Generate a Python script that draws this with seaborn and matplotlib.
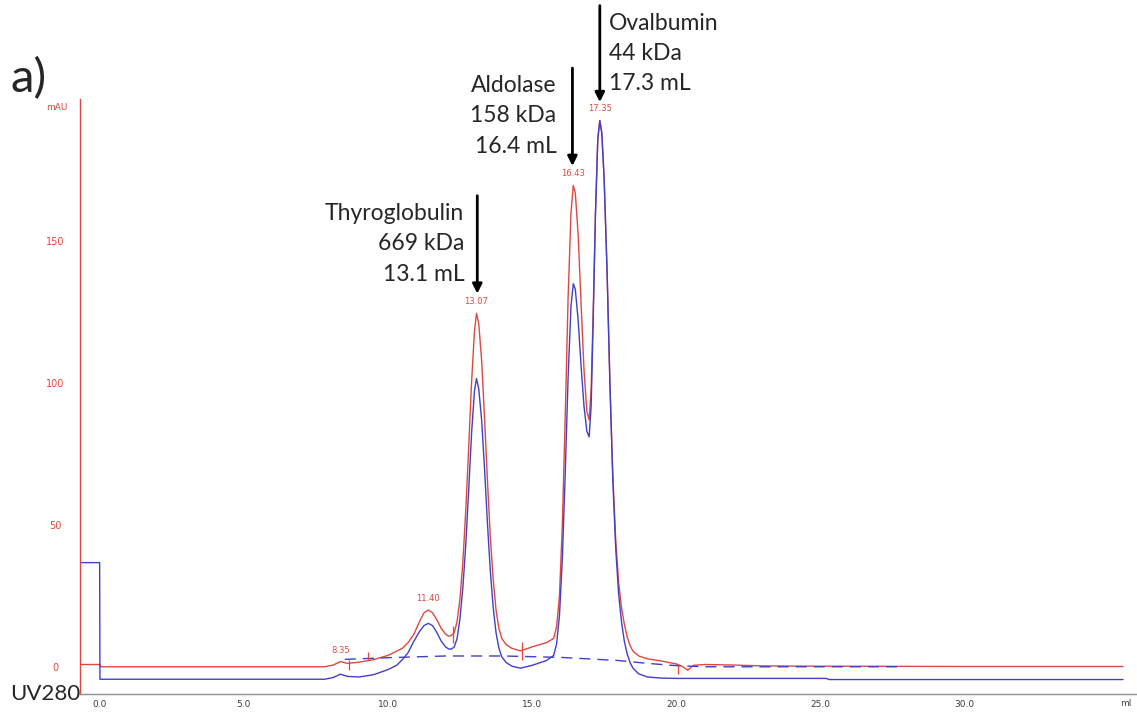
import numpy as np
import matplotlib
matplotlib.use("Agg")
import matplotlib.pyplot as plt
import seaborn as sns
import pandas as pd

# UV280 trace, run 1 (red), volume in mL and absorbance in mAU
red_ml = [-0.68, 0.0, 0.05, 7.8, 8.1, 8.35, 8.6, 9.0, 9.5, 10.0, 10.5, 10.7, 10.9, 11.1, 11.25,
          11.4, 11.55, 11.7, 11.85, 12.0, 12.1, 12.2, 12.3, 12.4, 12.5, 12.6, 12.7, 12.8, 12.9,
          13.0, 13.07, 13.15, 13.25, 13.35, 13.45, 13.55, 13.65, 13.75, 13.85, 13.95, 14.1, 14.3,
          14.6, 15.0, 15.5, 15.75, 15.85, 15.95, 16.05, 16.15, 16.25, 16.35, 16.43, 16.5, 16.6,
          16.7, 16.8, 16.9, 16.98, 17.05, 17.12, 17.2, 17.28, 17.35, 17.42, 17.5, 17.6, 17.7,
          17.8, 17.9, 18.0, 18.1, 18.2, 18.3, 18.4, 18.5, 18.7, 19.0, 19.5, 20.0, 20.2, 20.4,
          20.6, 21.0, 22.0, 23.0, 25.0, 30.0, 35.5]
red_mau = [0.8, 0.8, 0.0, 0.0, 0.6, 1.8, 1.2, 1.6, 2.5, 4.0, 6.5, 8.5, 11.5, 16.0, 19.0,
           20.0, 19.0, 16.5, 13.5, 11.5, 10.8, 11.0, 12.0, 16.0, 24.0, 37.0, 55.0, 77.0, 100.0,
           118.0, 124.5, 121.0, 108.0, 88.0, 66.0, 46.0, 31.0, 20.0, 13.5, 10.0, 7.8, 6.5,
           5.6, 7.0, 8.5, 10.0, 14.0, 25.0, 50.0, 88.0, 130.0, 160.0, 169.6, 167.0, 152.0,
           128.0, 105.0, 90.0, 87.0, 98.0, 125.0, 160.0, 186.0, 192.5, 188.0, 172.0, 140.0, 100.0,
           68.0, 45.0, 30.0, 21.0, 15.0, 10.5, 7.5, 5.5, 3.8, 2.8, 2.0, 1.0, 0.2, -1.2,
           0.5, 0.8, 0.6, 0.3, 0.2, 0.1, 0.1]

# UV280 trace, run 2 (blue)
blue_ml = [-0.68, 0.0, 0.01, 7.8, 8.1, 8.35, 8.6, 9.0, 9.5, 10.0, 10.3, 10.5, 10.7, 10.9, 11.1,
           11.25, 11.4, 11.55, 11.7, 11.85, 12.0, 12.1, 12.2, 12.3, 12.4, 12.5, 12.6, 12.7, 12.8,
           12.9, 13.0, 13.07, 13.15, 13.25, 13.35, 13.45, 13.55, 13.65, 13.75, 13.85, 13.95, 14.1,
           14.3, 14.6, 15.0, 15.5, 15.75, 15.85, 15.95, 16.05, 16.15, 16.25, 16.35, 16.43, 16.5,
           16.6, 16.7, 16.8, 16.9, 16.98, 17.05, 17.12, 17.2, 17.28, 17.35, 17.42, 17.5, 17.6,
           17.7, 17.8, 17.9, 18.0, 18.1, 18.2, 18.3, 18.4, 18.5, 18.7, 19.0, 19.5, 20.0, 22.0,
           25.2, 25.3, 30.0, 35.5]
blue_mau = [36.7, 36.7, -4.4, -4.4, -3.8, -2.6, -3.4, -3.6, -2.8, -1.0, 0.5, 2.5, 5.0, 9.0, 12.5,
            14.5, 15.3, 14.5, 12.0, 9.0, 7.0, 6.3, 6.2, 7.0, 10.0, 17.0, 28.0, 43.0, 62.0,
            82.0, 97.0, 101.6, 98.0, 87.0, 70.0, 51.0, 34.0, 21.0, 12.0, 6.5, 3.5, 1.5,
            0.2, -0.5, 0.5, 2.2, 4.0, 8.0, 18.0, 38.0, 68.0, 102.0, 127.0, 135.0, 133.0,
            122.0, 106.0, 92.0, 83.0, 81.0, 92.0, 122.0, 160.0, 186.0, 192.5, 188.0, 172.0, 140.0,
            100.0, 66.0, 42.0, 26.0, 16.0, 9.0, 4.5, 1.5, -0.5, -2.5, -3.6, -4.0, -4.1, -4.1,
            -4.1, -4.5, -4.5, -4.5]

# integration baseline (dashed)
base_ml = [8.5, 10.0, 12.0, 14.0, 16.0, 18.0, 19.0, 20.0, 21.0, 27.8]
base_mau = [2.6, 3.2, 3.8, 3.8, 3.3, 2.2, 1.2, 0.4, 0.0, 0.0]

# peak-limit markers
limit_ml = [8.65, 9.3, 12.25, 14.65, 20.05]
limit_lo = [-1.2, 2.3, 8.3, 2.3, -2.6]
limit_hi = [2.3, 5.3, 14.3, 8.8, 1.0]

# peak retention labels
peak_ml = [8.35, 11.40, 13.07, 16.43, 17.35]
peak_mau = [1.8, 20.0, 124.5, 169.6, 192.5]
peak_txt = ["8.35", "11.40", "13.07", "16.43", "17.35"]

# standards
std_names = ["Thyroglobulin\n669 kDa\n13.1 mL", "Aldolase\n158 kDa\n16.4 mL", "Ovalbumin\n44 kDa\n17.3 mL"]
std_ml = [13.1, 16.4, 17.35]

xticks = [0, 5, 10, 15, 20, 25, 30]
yticks = [0, 50, 100, 150]

RED = "#e0473f"
BLUE = "#4040c8"

sns.set_style("white")
plt.rcParams["font.family"] = ["Lato", "DejaVu Sans"]

fig = plt.figure(figsize=(11.37, 7.14), dpi=100)
ax = fig.add_axes([0.0704, 0.028, 0.93, 0.833])

red_df = pd.DataFrame({"ml": red_ml, "mau": red_mau})
blue_df = pd.DataFrame({"ml": blue_ml, "mau": blue_mau})
base_df = pd.DataFrame({"ml": base_ml, "mau": base_mau})

sns.lineplot(data=red_df, x="ml", y="mau", sort=False, estimator=None, color=RED, lw=1.0, ax=ax)
sns.lineplot(data=blue_df, x="ml", y="mau", sort=False, estimator=None, color=BLUE, lw=1.0, ax=ax)
sns.lineplot(data=base_df, x="ml", y="mau", sort=False, estimator=None, color=BLUE, lw=1.0,
             ax=ax, linestyle=(0, (8, 5)))

ax.vlines(limit_ml, limit_lo, limit_hi, color=RED, lw=0.9)

for xm, ym, t in zip(peak_ml, peak_mau, peak_txt):
    ax.text(xm, ym + 2.5, t, color=RED, fontsize=6, ha="center", va="bottom",
            family=["DejaVu Sans"])

# arrows with standard names
arrow_top = [166, 211, 233]
arrow_tip = [131.5, 176.5, 199]
text_x = [12.65, 15.85, 17.66]
text_ha = ["right", "right", "left"]
for name, xm, top, tip, tx, ha in zip(std_names, std_ml, arrow_top, arrow_tip, text_x, text_ha):
    ax.annotate("", xy=(xm, tip), xytext=(xm, top),
                arrowprops=dict(arrowstyle="-|>", color="black", lw=2, mutation_scale=14,
                                shrinkA=0, shrinkB=0),
                annotation_clip=False)
    ax.text(tx, top - 2.5, name, ha=ha, va="top", fontsize=16.5, linespacing=1.55,
            clip_on=False)

ax.set_xlim(-0.68, 36.0)
ax.set_ylim(-9.6, 200)
ax.set_xticks(xticks)
ax.set_xticklabels([f"{v:.1f}" for v in xticks])
ax.set_xticks(np.arange(2.5, 35, 5), minor=True)
ax.set_yticks(yticks)
ax.set_xlabel("")
ax.set_ylabel("")

ax.tick_params(axis="x", which="both", direction="in", length=3, color="#a0a0a0",
               labelsize=6.5, labelcolor="#404040", pad=4)
ax.tick_params(axis="y", direction="out", length=2, color=RED, labelsize=7,
               labelcolor=RED, pad=16)
for lab in ax.get_yticklabels():
    lab.set_horizontalalignment("center")
    lab.set_family(["DejaVu Sans"])
for lab in ax.get_xticklabels():
    lab.set_family(["DejaVu Sans"])

sns.despine(ax=ax, top=True, right=True)
ax.spines["left"].set_color(RED)
ax.spines["left"].set_linewidth(1.0)
ax.spines["bottom"].set_color("#909090")
ax.spines["bottom"].set_linewidth(1.0)

ax.text(-0.0218, 197, "mAU", transform=ax.get_yaxis_transform(), color=RED, fontsize=6.5,
        ha="center", va="center", family=["DejaVu Sans"])
ax.text(35.6, -13.0, "ml", color="#404040", fontsize=6.5, ha="center", va="center",
        family=["DejaVu Sans"], clip_on=False)

fig.text(10 / 1137, 1 - 700 / 714, "UV280", fontsize=16, ha="left", va="baseline")
fig.text(10 / 1137, 1 - 92 / 714, "a)", fontsize=34, ha="left", va="baseline")

fig.savefig("out.png", dpi=100)
